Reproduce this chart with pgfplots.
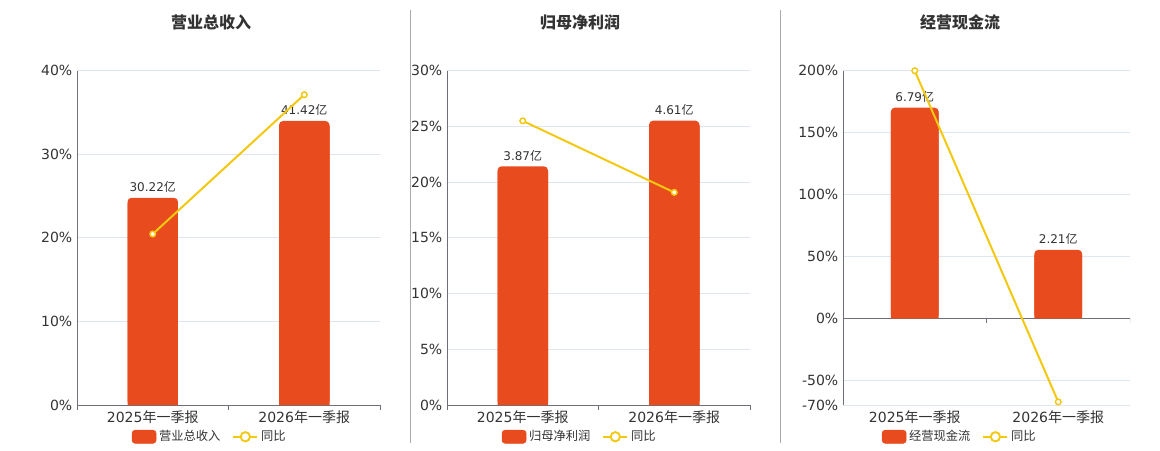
\documentclass[border=0pt]{standalone}
\usepackage{pgfplots}
\usepackage{pgfplotstable}
\pgfplotsset{compat=1.18}
\usepackage{fontspec}
\setmainfont{DejaVu Sans}
\newfontfamily\cjk{Noto Sans CJK SC}
\definecolor{barc}{RGB}{232,76,30}
\definecolor{linec}{RGB}{242,200,17}
\definecolor{gridc}{RGB}{224,230,241}
\definecolor{axc}{RGB}{110,112,121}
\definecolor{txt}{RGB}{51,51,51}
\definecolor{sepc}{RGB}{170,170,170}

% bar values (亿)
\pgfplotstableread{
x v
0 30.22
1 41.42
}\barA
\pgfplotstableread{
x v
0 3.87
1 4.61
}\barB
\pgfplotstableread{
x v
0 6.79
1 2.21
}\barC
% YoY (%)
\pgfplotstableread{
x v
0 20.46
1 37.13
}\lineA
\pgfplotstableread{
x v
0 25.5
1 19.08
}\lineB
\pgfplotstableread{
x v
0 200.0
1 -67.5
}\lineC

\newcommand{\yi}{{\cjk 亿}}

\pgfplotsset{
  base/.style={scale only axis, width=#1, height=250.7pt, xmin=-0.5, xmax=1.5, anchor=south west},
  deco/.style={
    axis y line*=left, axis x line*=bottom,
    axis line style={axc, line width=0.75pt},
    ymajorgrids, grid style={gridc, line width=0.75pt},
    y tick style={draw=none},
    xtick={0,1},
    xticklabels={{2025{\cjk 年一季报}},{2026{\cjk 年一季报}}},
    major x tick style={draw=none},
    minor xtick={-0.5,0.5,1.5},
    minor x tick style={axc, line width=0.75pt},
    xtick align=outside,
    minor tick length=3.75pt,
    major tick length=0pt,
    tick label style={font=\fontsize{10.5}{12}\selectfont, text=txt},
    x tick label style={yshift=-0.5pt},
  },
  bars/.style={ybar, bar width=0.3333, bar shift=0pt, fill=barc, draw=none},
  barlabels/.style={
    nodes near coords={\pgfmathprintnumber[fixed,fixed zerofill,precision=2,assume math mode=true]{\pgfplotspointmeta}\yi},
    every node near coord/.append style={font=\fontsize{9}{11}\selectfont, text=txt, anchor=south, yshift=0.5pt}},
  yoy/.style={linec, line width=1.5pt, mark=*, mark size=2.1pt,
    mark options={fill=white, draw=linec, line width=1.1pt}},
  leg/.style={
    legend columns=2,
    legend style={draw=none, fill=none, at={(axis description cs:#1,-0.095)}, anchor=center,
      font=\fontsize{9.2}{11}\selectfont, text=txt,
      /tikz/every even column/.append style={column sep=7pt}},
    legend cell align=left,
  },
  barlegimg/.style={legend image code/.code={\fill[barc, rounded corners=2.25pt] (0pt,-4.9pt) rectangle (18pt,4.9pt);}},
  linelegimg/.style={legend image code/.code={\draw[linec, line width=1.5pt] (0pt,0pt) -- (18pt,0pt); \draw[linec, line width=1.4pt, fill=white] (9pt,0pt) circle (3.5pt);}},
}

\begin{document}
\begin{tikzpicture}
\path[use as bounding box] (0,0) rectangle (870pt,337.5pt);

% separators
\draw[sepc, line width=0.75pt] (307.5pt,330pt) -- (307.5pt,5.25pt);
\draw[sepc, line width=0.75pt] (585pt,330pt) -- (585pt,5.25pt);

% titles
\node[font=\cjk\bfseries\fontsize{12}{14}\selectfont, text=txt] at (158.25pt,321pt) {营业总收入};
\node[font=\cjk\bfseries\fontsize{12}{14}\selectfont, text=txt] at (435pt,321pt) {归母净利润};
\node[font=\cjk\bfseries\fontsize{12}{14}\selectfont, text=txt] at (720pt,321pt) {经营现金流};

% ===== Panel 1 =====
\begin{axis}[base=227.25pt, at={(57.75pt,33.75pt)}, deco, ymin=0, ymax=40,
  ytick={0,10,20,30,40}, yticklabels={0\%,10\%,20\%,30\%,40\%}]
\addplot[draw=none] coordinates {(0,0)};
\end{axis}
\begin{axis}[base=227.25pt, at={(57.75pt,33.75pt)}, hide axis, ymin=0, ymax=48.75, clip=false]
\addplot[bars, rounded corners=3pt, barlabels] table[x=x,y=v] {\barA};
\addplot[bars, y filter/.expression={y-0.73}] table[x=x,y=v] {\barA};
\end{axis}
\begin{axis}[base=227.25pt, at={(57.75pt,33.75pt)}, hide axis, ymin=0, ymax=40, clip=false, leg=0.439]
\addlegendimage{barlegimg}
\addlegendentry{{\cjk 营业总收入}}
\addplot[yoy, linelegimg] table[x=x,y=v] {\lineA};
\addlegendentry{{\cjk 同比}}
\end{axis}

% ===== Panel 2 =====
\begin{axis}[base=227.25pt, at={(335.25pt,33.75pt)}, deco, ymin=0, ymax=30,
  ytick={0,5,10,15,20,25,30}, yticklabels={0\%,5\%,10\%,15\%,20\%,25\%,30\%}]
\addplot[draw=none] coordinates {(0,0)};
\end{axis}
\begin{axis}[base=227.25pt, at={(335.25pt,33.75pt)}, hide axis, ymin=0, ymax=5.42, clip=false]
\addplot[bars, rounded corners=3pt, barlabels] table[x=x,y=v] {\barB};
\addplot[bars, y filter/.expression={y-0.081}] table[x=x,y=v] {\barB};
\end{axis}
\begin{axis}[base=227.25pt, at={(335.25pt,33.75pt)}, hide axis, ymin=0, ymax=30, clip=false, leg=0.439]
\addlegendimage{barlegimg}
\addlegendentry{{\cjk 归母净利润}}
\addplot[yoy, linelegimg] table[x=x,y=v] {\lineB};
\addlegendentry{{\cjk 同比}}
\end{axis}

% ===== Panel 3 =====
\begin{axis}[base=215.25pt, at={(632.25pt,33.75pt)}, deco, ymin=-70, ymax=200,
  ytick={-70,-50,0,50,100,150,200}, yticklabels={-70\%,-50\%,0\%,50\%,100\%,150\%,200\%},
  x axis line style={draw=none}, minor xtick={},
  extra y ticks={0}, extra y tick labels={},
  extra y tick style={grid style={axc, line width=0.75pt}}]
\addplot[draw=none] coordinates {(0,0)};
\draw[axc, line width=0.75pt] (axis cs:0.5,0) -- ++(0pt,-3.75pt);
\draw[axc, line width=0.75pt] (axis cs:1.5,0) -- ++(0pt,-3.75pt);
\end{axis}
\begin{axis}[base=215.25pt, at={(632.25pt,33.75pt)}, hide axis, ymin=-2.79, ymax=7.98, clip=false]
\addplot[bars, rounded corners=3pt, barlabels] table[x=x,y=v] {\barC};
\addplot[bars, y filter/.expression={y-0.161}] table[x=x,y=v] {\barC};
\end{axis}
\begin{axis}[base=215.25pt, at={(632.25pt,33.75pt)}, hide axis, ymin=-70, ymax=200, clip=false, leg=0.408]
\addlegendimage{barlegimg}
\addlegendentry{{\cjk 经营现金流}}
\addplot[yoy, linelegimg] table[x=x,y=v] {\lineC};
\addlegendentry{{\cjk 同比}}
\end{axis}
\end{tikzpicture}
\end{document}
